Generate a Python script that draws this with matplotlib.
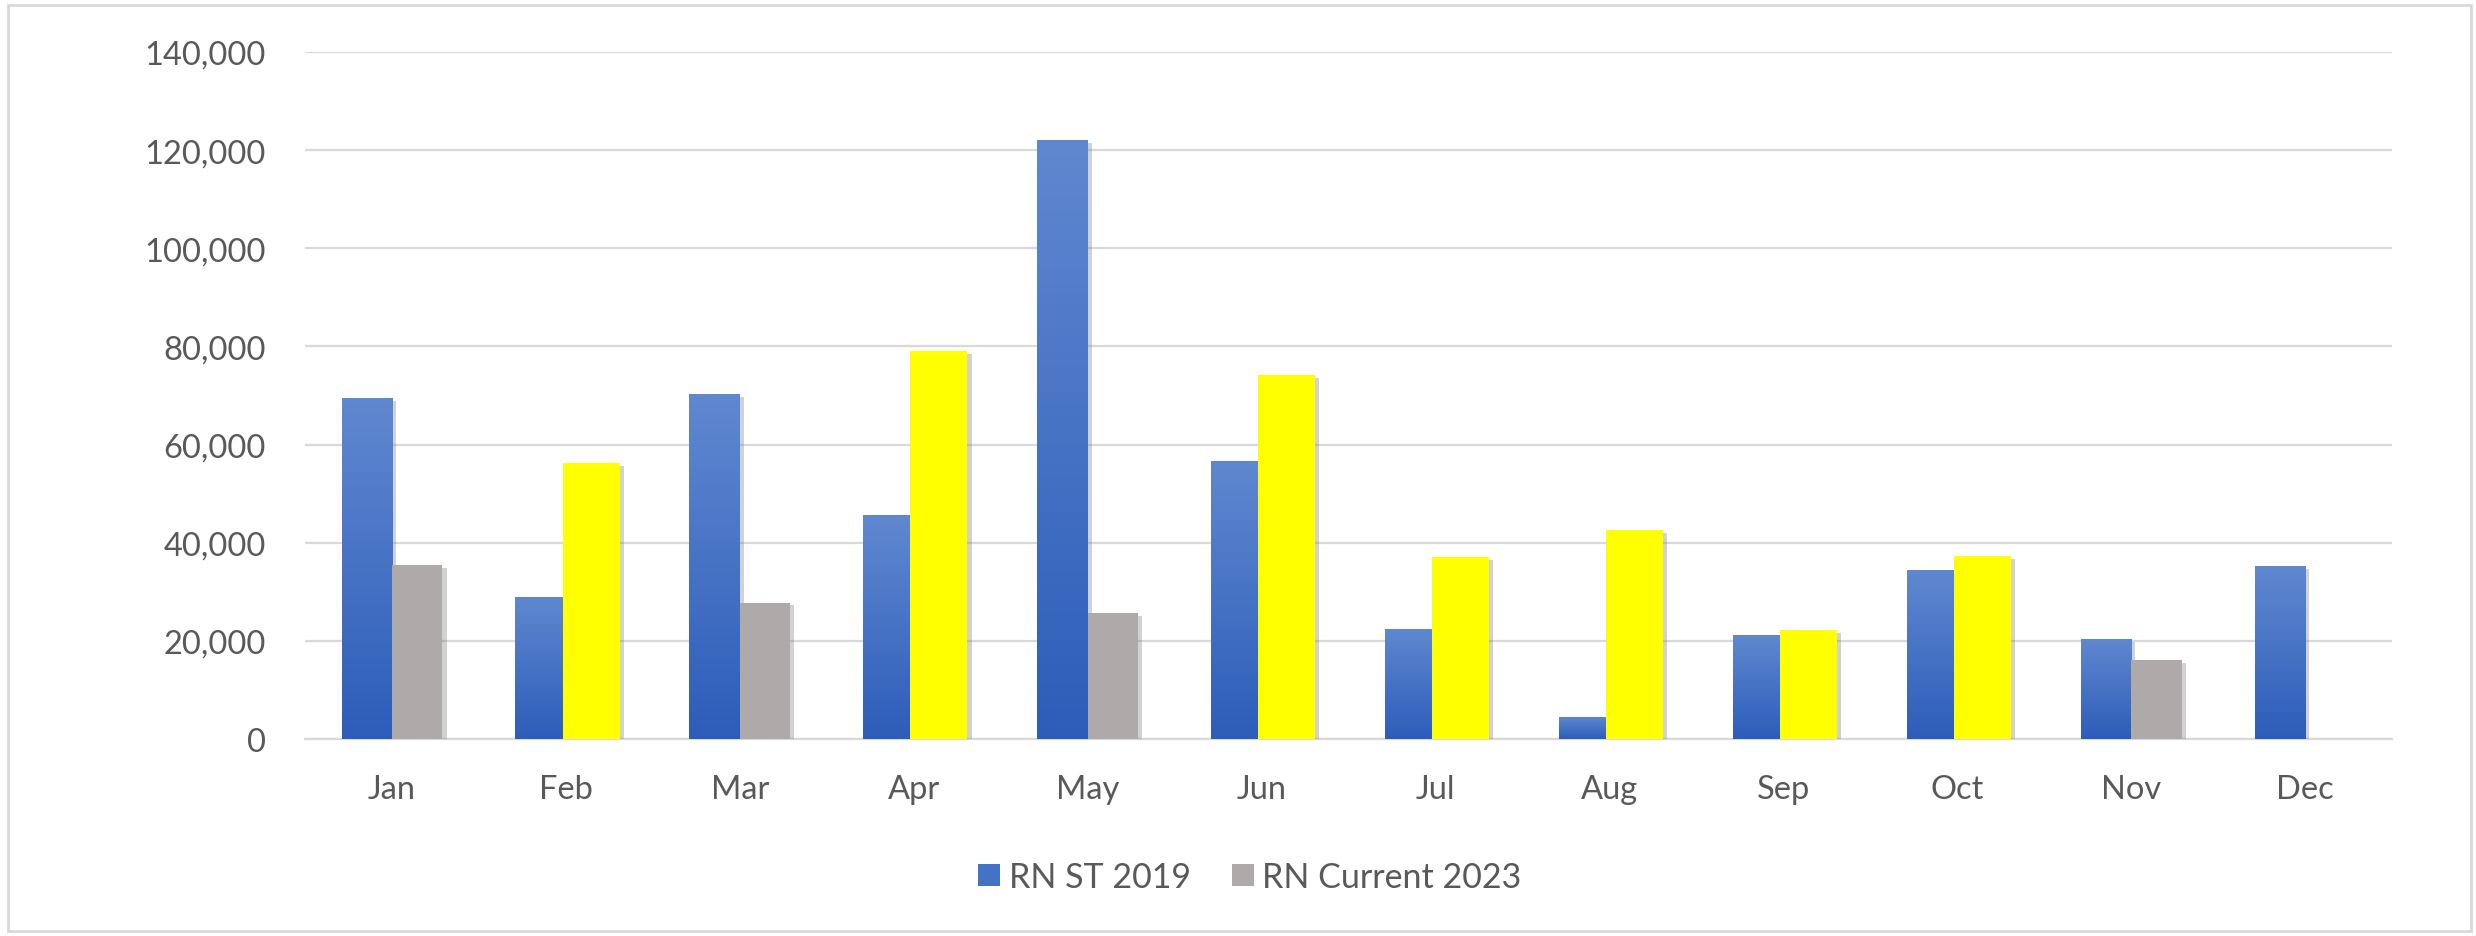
import numpy as np
import matplotlib
matplotlib.use("Agg")
import matplotlib.pyplot as plt
from matplotlib.patches import Rectangle, Patch
from matplotlib.colors import LinearSegmentedColormap
import matplotlib.patheffects as pe

months = ["Jan", "Feb", "Mar", "Apr", "May", "Jun", "Jul", "Aug", "Sep", "Oct", "Nov", "Dec"]
rn_st_2019 = [69500, 29000, 70300, 45600, 122000, 56700, 22500, 4500, 21200, 34400, 20400, 35200]
rn_current_2023 = [35500, 56200, 27800, 79000, 25600, 74100, 37100, 42600, 22200, 37300, 16100, np.nan]
highlight = [False, True, False, True, False, True, True, True, True, True, False, False]
series_names = ["RN ST 2019", "RN Current 2023"]
yticks = [0, 20000, 40000, 60000, 80000, 100000, 120000, 140000]

BLUE_TOP = "#6088D0"
BLUE_BOT = "#2D5DB9"
BLUE_LEG = "#4472C4"
GRAY = "#ADAAA9"
YELLOW = "#FFFF00"
TXT = "#595959"
GRID = "#D9D9D9"

plt.rcParams['font.family'] = ['Lato', 'DejaVu Sans']

fig = plt.figure(figsize=(24.76, 9.37), dpi=100)
ax = fig.add_axes([305/2476, 1-740/937, (2392-305)/2476, (740-53)/937])

x = np.arange(len(months))
w = 0.29
shadow = [pe.SimplePatchShadow(offset=(3, -2), shadow_rgbFace='#808080', alpha=0.35), pe.Normal()]

b1 = ax.bar(x - w/2, rn_st_2019, width=w, color=BLUE_LEG, zorder=3, linewidth=0)
cur_colors = [YELLOW if h else GRAY for h in highlight]
cur_widths = [w*1.13 if h else w for h in highlight]
b2 = ax.bar(x + w/2, rn_current_2023, width=cur_widths, color=cur_colors, zorder=4, linewidth=0)

for r in list(b1) + list(b2):
    r.set_path_effects(shadow)

# gradient fill for blue bars
cmap = LinearSegmentedColormap.from_list("bl", [BLUE_BOT, BLUE_TOP])
grad = np.linspace(0, 1, 256).reshape(-1, 1)
for r in b1:
    x0, y0 = r.get_x(), r.get_y()
    im = ax.imshow(grad, cmap=cmap, origin='lower', aspect='auto',
                   extent=[x0, x0 + r.get_width(), y0, y0 + r.get_height()], zorder=3.5)
    im.set_clip_path(r)

ax.set_xlim(-0.5, len(months) - 0.5)
ax.set_ylim(0, 140000)
ax.set_yticks(yticks)
ax.set_yticklabels([f"{v:,}" for v in yticks])
ax.set_xticks(x)
ax.set_xticklabels(months)
ax.tick_params(axis='both', length=0, labelsize=23.5, colors=TXT)
ax.tick_params(axis='y', pad=28)
ax.tick_params(axis='x', pad=25)
ax.grid(axis='y', color=GRID, linewidth=1.6, zorder=0)
ax.set_axisbelow(True)
for s in ["top", "right", "left"]:
    ax.spines[s].set_visible(False)
ax.spines["bottom"].set_color(GRID)
ax.spines["bottom"].set_linewidth(1.6)

handles = [Patch(facecolor=BLUE_LEG), Patch(facecolor=GRAY)]
fig.legend(handles, series_names, loc='center', bbox_to_anchor=(1250/2476, 1-878/937),
           ncol=2, frameon=False, fontsize=24.5, labelcolor=TXT,
           handlelength=0.65, handleheight=0.65, handletextpad=0.25, columnspacing=1.2)

fig.patches.append(Rectangle((8/2476, 5/937), (2471-8)/2476, (931-5)/937,
                             transform=fig.transFigure, fill=False, edgecolor=GRID, linewidth=2))

fig.savefig("out.png", dpi=100)
